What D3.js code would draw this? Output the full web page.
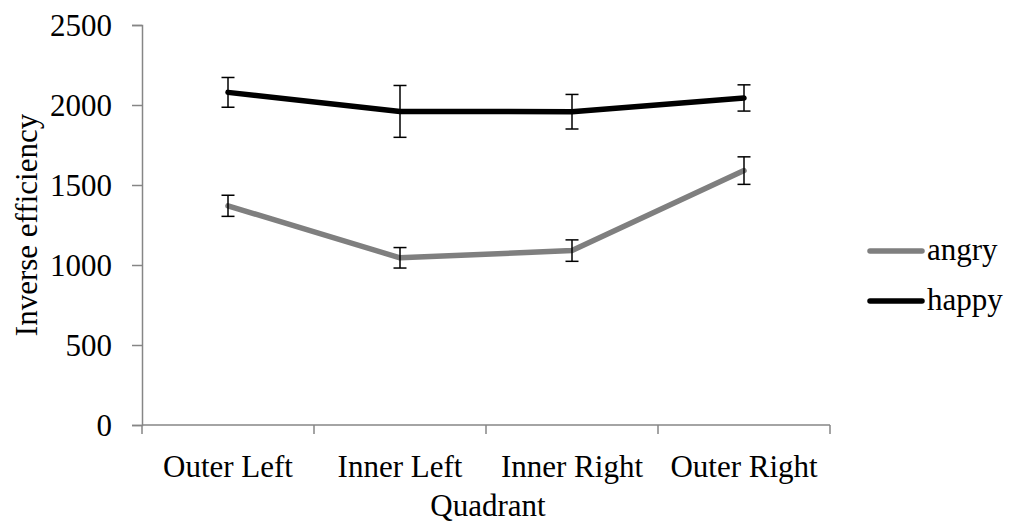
<!DOCTYPE html>
<html>
<head>
<meta charset="utf-8">
<script src="https://cdn.jsdelivr.net/npm/d3@7"></script>
<style>
  html, body { margin: 0; padding: 0; background: #fff; }
  svg { display: block; }
  text { font-family: "Liberation Serif", "Times New Roman", serif; fill: #000; }
</style>
</head>
<body>
<svg id="chart" width="1010" height="524"></svg>
<script>
// Quadrant categories and mean inverse efficiency per emotion
const quadrants = ["Outer Left", "Inner Left", "Inner Right", "Outer Right"];
const angryMeans = [1370, 1045, 1090, 1590];
const angryErrors = [66, 64, 67, 86];
const happyMeans = [2079, 1960, 1958, 2044];
const happyErrors = [93, 162, 108, 82];
const yTicks = [0, 500, 1000, 1500, 2000, 2500];

const series = [
  { name: "angry", means: angryMeans, errors: angryErrors, color: "#7f7f7f" },
  { name: "happy", means: happyMeans, errors: happyErrors, color: "#000000" }
];

const svg = d3.select("#chart");
const plotLeft = 142, plotRight = 830, plotTop = 25, plotBottom = 425;
const fontSize = 31;

const x = d3.scaleBand().domain(quadrants).range([plotLeft, plotRight]);
const y = d3.scaleLinear().domain([0, 2500]).range([plotBottom, plotTop]);
const axisColor = "#868686";

// Y axis
const yAxis = svg.append("g").attr("transform", `translate(${plotLeft},0)`)
  .call(d3.axisLeft(y).tickValues(yTicks).tickSize(10).tickPadding(20).tickFormat(d3.format("d")));
yAxis.select(".domain").attr("stroke", axisColor).attr("stroke-width", 1.5);
yAxis.selectAll(".tick line").attr("stroke", axisColor).attr("stroke-width", 1.5);
yAxis.selectAll(".tick text").attr("font-size", fontSize).attr("font-family", "Liberation Serif").attr("dy", "0.34em");

// X axis with ticks at category boundaries
const xAxisG = svg.append("g").attr("transform", `translate(0,${plotBottom})`);
xAxisG.append("line").attr("x1", plotLeft).attr("x2", plotRight).attr("y1", 0).attr("y2", 0)
  .attr("stroke", axisColor).attr("stroke-width", 1.5);
const boundaries = quadrants.map(q => x(q)).concat([x(quadrants[quadrants.length - 1]) + x.bandwidth()]);
xAxisG.selectAll("line.tk").data(boundaries).enter().append("line")
  .attr("class", "tk")
  .attr("x1", d => d).attr("x2", d => d).attr("y1", 0).attr("y2", 9)
  .attr("stroke", axisColor).attr("stroke-width", 1.5);
xAxisG.selectAll("text.lbl").data(quadrants).enter().append("text")
  .attr("class", "lbl")
  .attr("x", d => x(d) + x.bandwidth() / 2)
  .attr("y", 52)
  .attr("text-anchor", "middle")
  .attr("font-size", fontSize)
  .text(d => d);

// Axis titles
svg.append("text")
  .attr("x", (plotLeft + plotRight) / 2 + 2)
  .attr("y", 516)
  .attr("text-anchor", "middle")
  .attr("font-size", fontSize)
  .text("Quadrant");
svg.append("text")
  .attr("transform", `translate(37,${(plotTop + plotBottom) / 2}) rotate(-90)`)
  .attr("text-anchor", "middle")
  .attr("font-size", fontSize)
  .text("Inverse efficiency");

const cx = d => x(d) + x.bandwidth() / 2;
const line = d3.line().x(d => cx(d.q)).y(d => y(d.v));

// Series lines
series.forEach(s => {
  const pts = quadrants.map((q, i) => ({ q, v: s.means[i] }));
  svg.append("path")
    .datum(pts)
    .attr("d", line)
    .attr("fill", "none")
    .attr("stroke", s.color)
    .attr("stroke-width", 5.5)
    .attr("stroke-linejoin", "round")
    .attr("stroke-linecap", "round");
});

// Error bars
series.forEach(s => {
  const g = svg.append("g");
  quadrants.forEach((q, i) => {
    const xc = cx(q);
    const hi = y(s.means[i] + s.errors[i]);
    const lo = y(s.means[i] - s.errors[i]);
    g.append("line").attr("x1", xc).attr("x2", xc).attr("y1", hi).attr("y2", lo)
      .attr("stroke", "#000").attr("stroke-width", 1.5);
    [hi, lo].forEach(yy => {
      g.append("line").attr("x1", xc - 6.5).attr("x2", xc + 6.5).attr("y1", yy).attr("y2", yy)
        .attr("stroke", "#000").attr("stroke-width", 1.5);
    });
  });
});

// Legend
const legend = svg.append("g");
series.forEach((s, i) => {
  const ly = 251 + i * 50;
  legend.append("line").attr("x1", 870).attr("x2", 922).attr("y1", ly).attr("y2", ly)
    .attr("stroke", s.color).attr("stroke-width", 5.5).attr("stroke-linecap", "round");
  legend.append("text").attr("x", 927).attr("y", ly).attr("dy", "0.3em")
    .attr("font-size", fontSize).text(s.name);
});
</script>
</body>
</html>
